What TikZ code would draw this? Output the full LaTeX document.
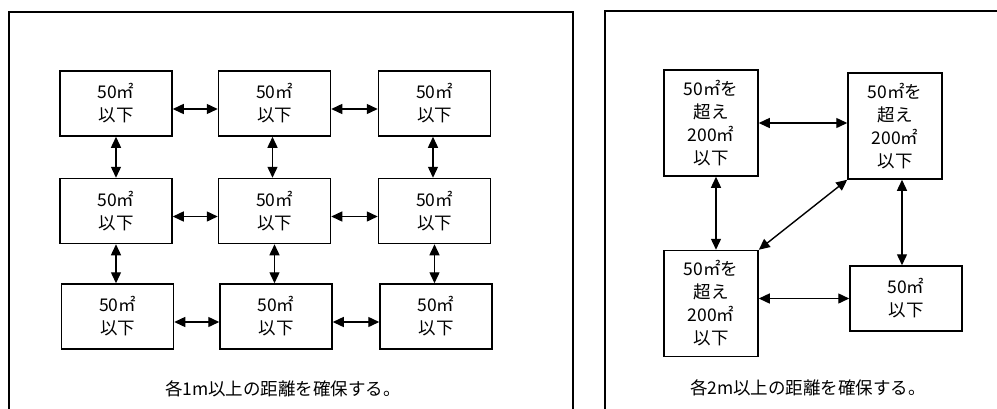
\documentclass[tikz,border=0pt]{standalone}
\usepackage{fontspec}
\newfontfamily\jpfont{Noto Sans CJK JP}
\usetikzlibrary{arrows.meta,calc}
\tikzset{line width=1.4pt,
  every node/.style={font=\jpfont\fontsize{17.5}{23}\selectfont},
  frame/.style={draw,line width=1.5pt},
  room/.style={draw,line width=1.5pt,align=center,inner sep=0pt},
  smallroom/.style={room,minimum width=112pt,minimum height=65pt},
  bigroom/.style={room,minimum width=94pt,minimum height=106pt},
  gap/.style={{Triangle[length=11pt,width=10pt]}-{Triangle[length=11pt,width=10pt]},line width=1.4pt},
  caption/.style={inner sep=0pt}}
\begin{document}
\begin{tikzpicture}[x=1pt,y=-1pt]
\useasboundingbox (0,0) rectangle (997,408);
\clip (0,0) rectangle (997,408);
% two panels, cut at the bottom
\draw[frame] (9,12) rectangle (573,430);
\draw[frame] (605,11) rectangle (1010,430);
% left: 3x3 rooms of 50 m2 or less
\node[smallroom] (a11) at (116,103.5) {50㎡\\以下};
\node[smallroom] (a12) at (274.5,103.5) {50㎡\\以下};
\node[smallroom] (a13) at (434.5,103.5) {50㎡\\以下};
\node[smallroom] (a21) at (116,211) {50㎡\\以下};
\node[smallroom] (a22) at (274.5,211) {50㎡\\以下};
\node[smallroom] (a23) at (434.5,211) {50㎡\\以下};
\node[smallroom] (a31) at (117.5,316.5) {50㎡\\以下};
\node[smallroom] (a32) at (276,316.5) {50㎡\\以下};
\node[smallroom] (a33) at (436,316.5) {50㎡\\以下};
\draw[gap] ([yshift=-5.5]a11.east)--([yshift=-5.5]a12.west);\draw[gap] ([yshift=-5.5]a12.east)--([yshift=-5.5]a13.west);
\draw[gap] ([yshift=-5.5]a21.east)--([yshift=-5.5]a22.west);\draw[gap] ([yshift=-5.5]a22.east)--([yshift=-5.5]a23.west);
\draw[gap] ([yshift=-5.5]a31.east)--([yshift=-5.5]a32.west);\draw[gap] ([yshift=-5.5]a32.east)--([yshift=-5.5]a33.west);
\draw[gap] (a11.south)--(a21.north);\draw[gap] ([xshift=-2]a12.south)--([xshift=-2]a22.north);\draw[gap] ([xshift=-1.5]a13.south)--([xshift=-1.5]a23.north);
\draw[gap] (a21.south)--(a21.south|-a31.north);\draw[gap] (a22.south)--(a22.south|-a32.north);\draw[gap] (a23.south)--(a23.south|-a33.north);
\node[caption] (capa) at (283,389) {各1m以上の距離を確保する。};
% right: rooms over 50 m2 up to 200 m2
\node[bigroom] (b1) at (711,123) {50㎡を\\超え\\200㎡\\以下};
\node[bigroom] (b2) at (895,126) {50㎡を\\超え\\200㎡\\以下};
\node[bigroom] (b3) at (711,303.5) {50㎡を\\超え\\200㎡\\以下};
\node[smallroom] (b4) at (906,298.5) {50㎡\\以下};
\draw[gap] (b1.east)--(b1.east-|b2.west);
\draw[gap] ([xshift=5]b1.south)--([xshift=5]b3.north);
\draw[gap] ([xshift=7]b2.south)--([xshift=7]b2.south|-b4.north);
\draw[gap] (b3.east|-b4.west)--(b4.west);
\draw[gap] (b3.north east)--(b2.south west);
\node[caption] (capb) at (808,388) {各2m以上の距離を確保する。};
\end{tikzpicture}
\end{document}
